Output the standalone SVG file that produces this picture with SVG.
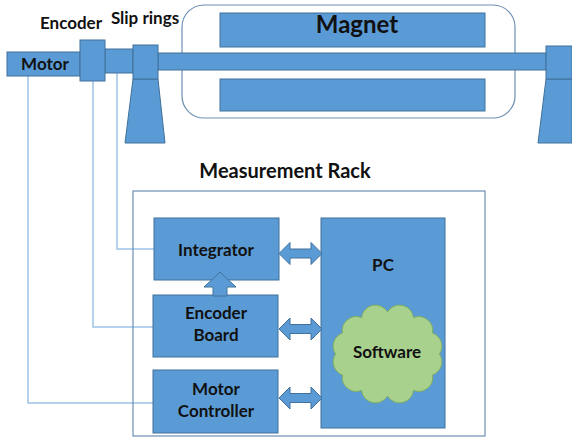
<svg xmlns="http://www.w3.org/2000/svg" width="572" height="437" viewBox="0 0 572 437">
<style>
.b{fill:#5b9bd5;stroke:#41719c;stroke-width:1}
.ln{fill:none;stroke:#9dc3e6;stroke-width:1.5}
.t{font-family:Lato,"Liberation Sans",sans-serif;font-weight:bold;fill:#111;text-anchor:middle}
</style>
<rect width="572" height="437" fill="#fff"/>
<g id="connectors">
<polyline class="ln" points="28,76 28,403 153,403"/>
<polyline class="ln" points="93,81 93,327 153,327"/>
<polyline class="ln" points="117,73 117,249 154,249"/>
</g>
<g id="magnet">
<rect x="182" y="5" width="333" height="113" rx="22" fill="#fff" stroke="#6d8fb3" stroke-width="1.2"/>
<rect class="b" x="220" y="13" width="265" height="34"/>
<rect class="b" x="220" y="79" width="265" height="32"/>
<text class="t" x="357" y="33" font-size="24">Magnet</text>
</g>
<g id="shaft">
<rect class="b" x="105" y="49" width="28" height="24"/>
<rect class="b" x="158" y="53" width="388" height="17"/>
</g>
<g id="motor">
<rect class="b" x="7" y="52" width="73" height="24"/>
<text class="t" x="45" y="70" font-size="17">Motor</text>
</g>
<g id="encoder">
<rect class="b" x="80" y="40" width="25" height="41"/>
<text class="t" x="71" y="29" font-size="17">Encoder</text>
</g>
<g id="slip-rings">
<polygon class="b" points="133,79 158,79 165,143 125,143"/>
<rect class="b" x="133" y="45" width="25" height="34"/>
<text class="t" x="145" y="24" font-size="17">Slip rings</text>
</g>
<g id="right-support">
<polygon class="b" points="546,79 572,79 572,143 538,143"/>
<rect class="b" x="546" y="46" width="26" height="33"/>
</g>
<g id="rack">
<rect x="133" y="191" width="352" height="245" fill="none" stroke="#6d8fb3" stroke-width="1.2"/>
<text class="t" x="285" y="178" font-size="20">Measurement Rack</text>
</g>
<g id="pc">
<rect class="b" x="321" y="218" width="124" height="210"/>
<text class="t" x="383" y="271" font-size="17">PC</text>
</g>
<g id="software">
<path d="M439.5,354 A14,14 0 0 1 432.5,375 A14,14 0 0 1 413.5,390.4 A14,14 0 0 1 387.5,396 A14,14 0 0 1 361.5,390.4 A14,14 0 0 1 342.5,375 A14,14 0 0 1 335.5,354 A14,14 0 0 1 342.5,333 A14,14 0 0 1 361.5,317.6 A14,14 0 0 1 387.5,312 A14,14 0 0 1 413.5,317.6 A14,14 0 0 1 432.5,333 A14,14 0 0 1 439.5,354 Z" fill="#a9d18e" stroke="#7fae5f" stroke-width="1"/>
<text class="t" x="387" y="358" font-size="17">Software</text>
</g>
<g id="integrator">
<rect class="b" x="154" y="218" width="125" height="62"/>
<text class="t" x="216" y="256" font-size="17">Integrator</text>
</g>
<g id="encoder-board">
<rect class="b" x="153" y="295" width="125" height="62"/>
<text class="t" x="216" y="319" font-size="17">Encoder</text>
<text class="t" x="216" y="341" font-size="17">Board</text>
</g>
<g id="motor-controller">
<rect class="b" x="153" y="370" width="125" height="63"/>
<text class="t" x="216" y="395" font-size="17">Motor</text>
<text class="t" x="216" y="417" font-size="17">Controller</text>
</g>
<g id="arrows">
<polygon class="b" points="220,272 236,287 227,287 227,296 213,296 213,287 204,287"/>
<polygon class="b" points="279,253.5 290,242.5 290,249 311,249 311,242.5 322,253.5 311,264.5 311,258 290,258 290,264.5"/>
<polygon class="b" points="279,329 290,318 290,324.5 311,324.5 311,318 322,329 311,340 311,333.5 290,333.5 290,340"/>
<polygon class="b" points="279,398 290,387 290,393.5 311,393.5 311,387 322,398 311,409 311,402.5 290,402.5 290,409"/>
</g>
</svg>
